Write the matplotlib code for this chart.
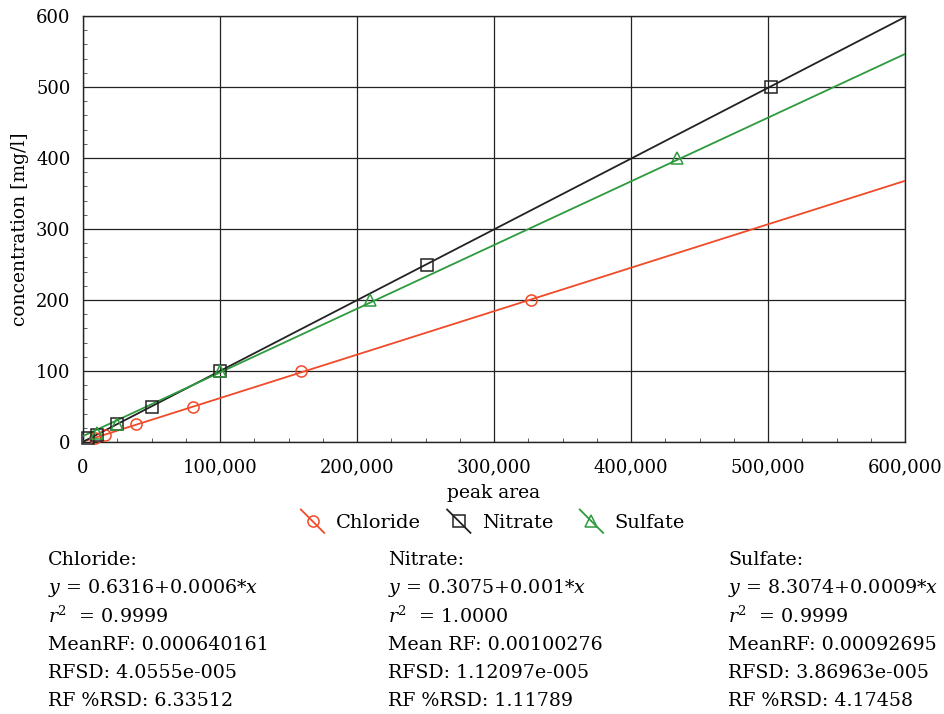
import numpy as np
import matplotlib
matplotlib.use("Agg")
import matplotlib.pyplot as plt
from matplotlib.lines import Line2D
from matplotlib.legend_handler import HandlerLine2D
from matplotlib.ticker import FuncFormatter, MultipleLocator

plt.rcParams['font.family'] = ['DejaVu Serif']
plt.rcParams['mathtext.fontset'] = 'dejavuserif'

# ---- data ----
series_names = ["Chloride", "Nitrate", "Sulfate"]
chloride_area = [9000, 16000, 39000, 80000, 159000, 327000]
chloride_conc = [5, 10, 25, 50, 100, 200]
nitrate_area = [4000, 10500, 25000, 50500, 100000, 251000, 502000]
nitrate_conc = [5, 10, 25, 50, 100, 250, 500]
sulfate_area = [10500, 25000, 100000, 209500, 433500]
sulfate_conc = [12, 25, 100, 200, 400]
fit_intercept = [0.6316, 0.3075, 8.3074]
fit_slope = [0.000612, 0.000997, 0.000897]
x_ticks = [0, 100000, 200000, 300000, 400000, 500000, 600000]
y_ticks = [0, 100, 200, 300, 400, 500, 600]
stats_text = [
    ["Chloride:", "$y$ = 0.6316+0.0006*$x$", "$r^2$  = 0.9999",
     "MeanRF: 0.000640161", "RFSD: 4.0555e-005", "RF %RSD: 6.33512"],
    ["Nitrate:", "$y$ = 0.3075+0.001*$x$", "$r^2$  = 1.0000",
     "Mean RF: 0.00100276", "RFSD: 1.12097e-005", "RF %RSD: 1.11789"],
    ["Sulfate:", "$y$ = 8.3074+0.0009*$x$", "$r^2$  = 0.9999",
     "MeanRF: 0.00092695", "RFSD: 3.86963e-005", "RF %RSD: 4.17458"],
]

colors = ["#f04a28", "#222222", "#2e9a3e"]
markers = ["o", "s", "^"]
areas = [chloride_area, nitrate_area, sulfate_area]
concs = [chloride_conc, nitrate_conc, sulfate_conc]

fig = plt.figure(figsize=(9.44, 7.14), dpi=100)
ax = fig.add_axes([83/944, 1-442/714, (905-83)/944, (442-16)/714])

xl = np.array([0, 600000])
handles = []
for i in range(3):
    ax.plot(xl, fit_intercept[i] + fit_slope[i]*xl, color=colors[i], lw=1.3, zorder=3)
    ax.plot(areas[i], concs[i], linestyle='none', marker=markers[i], ms=8,
            mfc='none', mec=colors[i], mew=1.1, zorder=4, clip_on=False)
    handles.append(Line2D([], [], color=colors[i], lw=1.3, marker=markers[i],
                          ms=8, mfc='none', mec=colors[i], mew=1.1))

ax.set_xlim(0, 600000)
ax.set_ylim(0, 600)
ax.set_xticks(x_ticks)
ax.set_yticks(y_ticks)
ax.xaxis.set_major_formatter(FuncFormatter(lambda v, p: f"{int(v):,}"))
ax.xaxis.set_minor_locator(MultipleLocator(25000))
ax.yaxis.set_minor_locator(MultipleLocator(20))
ax.grid(True, which='major', color='#222222', lw=0.9)
ax.tick_params(which='both', direction='in', labelsize=13)
ax.tick_params(axis='x', which='major', length=0, pad=12)
ax.tick_params(axis='y', which='major', length=0, pad=9)
ax.tick_params(which='minor', length=3, color='#444444')
for s in ax.spines.values():
    s.set_color('#222222')
    s.set_linewidth(1.0)
ax.set_xlabel("peak area", fontsize=13.5, labelpad=5)
ax.set_ylabel("concentration [mg/l]", fontsize=13.5, labelpad=5)


class DiagHandler(HandlerLine2D):
    def create_artists(self, legend, orig_handle, xdescent, ydescent, width,
                       height, fontsize, trans):
        x0 = -xdescent
        y0 = -ydescent
        cx = x0 + width/2
        cy = y0 + height/2
        d = width*0.5
        line = Line2D([cx-d, cx+d], [cy+d, cy-d], color=orig_handle.get_color(),
                      lw=orig_handle.get_linewidth(), transform=trans)
        mk = Line2D([cx], [cy], linestyle='none', marker=orig_handle.get_marker(),
                    ms=orig_handle.get_markersize(), mfc='none',
                    mec=orig_handle.get_markeredgecolor(), mew=1.1, transform=trans)
        return [line, mk]


fig.legend(handles, series_names, loc='center', bbox_to_anchor=(493/944, 1-523/714),
           ncol=3, frameon=False, fontsize=14, handler_map={Line2D: DiagHandler()},
           handlelength=1.2, columnspacing=1.35, handletextpad=0.6)

col_x = [48, 388, 728]
for c in range(3):
    for j, t in enumerate(stats_text[c]):
        fig.text(col_x[c]/944, 1-(560 + j*28.3)/714, t, fontsize=13.7,
                 ha='left', va='center')

fig.savefig("out.png", dpi=100)
